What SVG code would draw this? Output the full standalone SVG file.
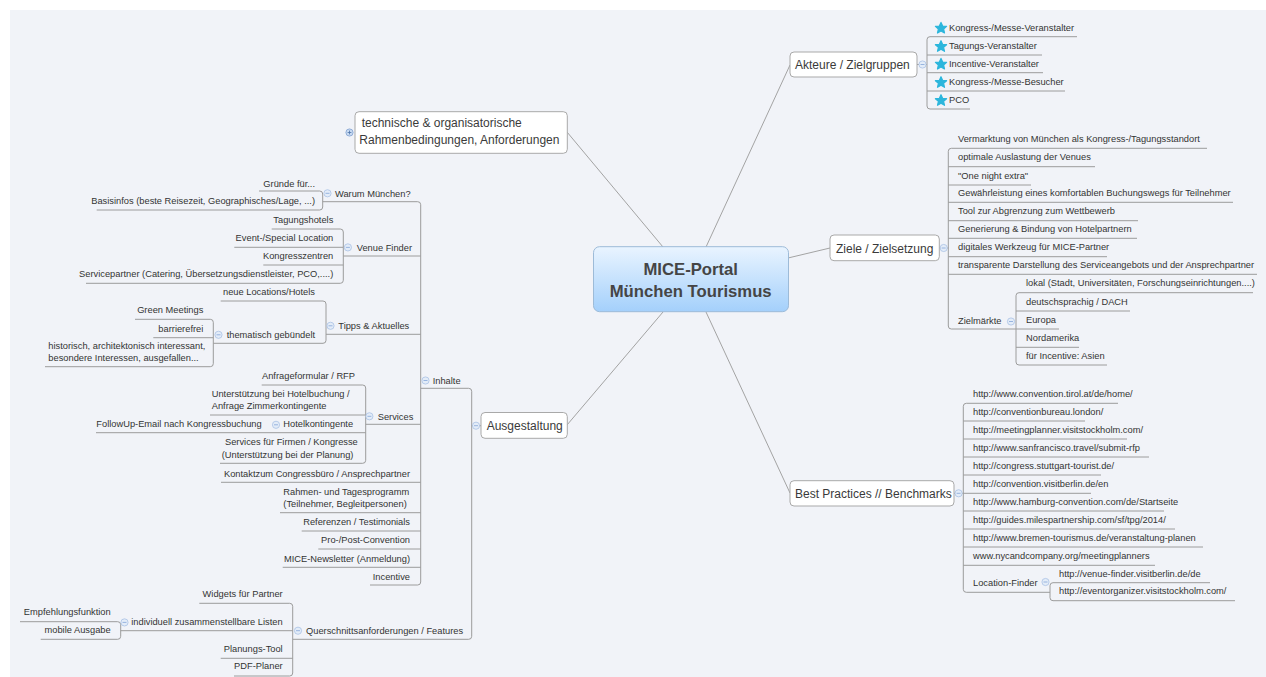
<svg xmlns="http://www.w3.org/2000/svg" width="1266" height="677" viewBox="0 0 1266 677">
  <style>
    .t { font-family: "Liberation Sans", Arial, sans-serif; font-size: 9.3px; fill: #333333; }
    .e { text-anchor: end; }
    .tb { font-family: "Liberation Sans", Arial, sans-serif; font-size: 12px; fill: #3a3a3a; }
    .tc { font-family: "Liberation Sans", Arial, sans-serif; font-size: 16.7px; font-weight: bold; fill: #454545; text-anchor: middle; }
    .ln { fill: none; stroke: #9c9c9c; stroke-width: 1; }
    .cn { fill: none; stroke: #a3a3a3; stroke-width: 1; }
    .box { fill: #ffffff; stroke: #a9a9a9; stroke-width: 1; }
    .ind { fill: #e3ecf8; stroke: #a9c2e4; stroke-width: 0.8; }
    .indm { stroke: #8eaedb; stroke-width: 0.9; }
  </style>
  <defs>
    <linearGradient id="centralFill" x1="0" y1="0" x2="0" y2="1">
      <stop offset="0" stop-color="#e9f4ff"/>
      <stop offset="1" stop-color="#a4d0fb"/>
    </linearGradient>
    <polygon id="star" points="0,-5.8 1.7,-2.1 5.6,-1.8 2.6,0.8 3.5,4.8 0,2.7 -3.5,4.8 -2.6,0.8 -5.6,-1.8 -1.7,-2.1" fill="#2cb6dc" stroke="#2cb6dc" stroke-width="1.2" stroke-linejoin="round"/>
    <g id="minus">
      <circle class="ind" r="3.6"/>
      <line class="indm" x1="-2" y1="0" x2="2" y2="0"/>
    </g>
  </defs>

  <!-- canvas -->
  <rect x="0" y="0" width="1266" height="677" fill="#ffffff"/>
  <rect x="10" y="10" width="1256" height="667" fill="#f1f3f8"/>

  <!-- connectors -->
  <g id="connectors">
    <!-- central topic to main branches -->
    <line class="cn" x1="663" y1="247" x2="567" y2="132"/>
    <line class="cn" x1="706" y1="247" x2="790" y2="65"/>
    <line class="cn" x1="788" y1="258" x2="830" y2="248"/>
    <line class="cn" x1="706" y1="312" x2="790" y2="493"/>
    <line class="cn" x1="663" y1="312" x2="567" y2="425"/>

    <!-- Akteure / Zielgruppen -->
    <path class="ln" d="M917,64.5 H927"/>
    <path class="ln" d="M1077,36.7 H930 Q927,36.7 927,39.7 V106 Q927,109 930,109 H970"/>
    <path class="ln" d="M927,55 H1042 M927,72.7 H1043 M927,91 H1065"/>

    <!-- Ziele / Zielsetzung -->
    <path class="ln" d="M939,248 H948.3"/>
    <path class="ln" d="M1207,148.3 H951.3 Q948.3,148.3 948.3,151.3 V326 Q948.3,329 951.3,329 H1059"/>
    <path class="ln" d="M948.3,166.7 H1095 M948.3,185 H1031 M948.3,202.3 H1233 M948.3,220.7 H1138 M948.3,238.3 H1137 M948.3,256.7 H1107 M948.3,274.3 H1257"/>
    <path class="ln" d="M1253,292.7 H1019 Q1016,292.7 1016,295.7 V362 Q1016,365 1019,365 H1107"/>
    <path class="ln" d="M1016,311 H1130 M1016,347.3 H1079"/>

    <!-- Best Practices // Benchmarks -->
    <path class="ln" d="M954,493.3 H963.3"/>
    <path class="ln" d="M1118,403.3 H966.3 Q963.3,403.3 963.3,406.3 V589.3 Q963.3,592.3 966.3,592.3 H1050"/>
    <path class="ln" d="M963.3,421 H1085 M963.3,439 H1127 M963.3,457 H1149 M963.3,475 H1101 M963.3,493.3 H1091 M963.3,511 H1164 M963.3,529 H1175 M963.3,547 H1203 M963.3,565.3 H1155"/>
    <path class="ln" d="M1210,582.7 H1053 Q1050,582.7 1050,585.7 V597.7 Q1050,600.7 1053,600.7 H1235"/>

    <!-- Ausgestaltung -->
    <path class="ln" d="M471.7,425.7 H481"/>
    <path class="ln" d="M420.7,388.3 H468.7 Q471.7,388.3 471.7,391.3 V636.3 Q471.7,639.3 468.7,639.3 H292.7"/>

    <!-- Inhalte -->
    <path class="ln" d="M322.7,201.7 H417.7 Q420.7,201.7 420.7,204.7 V582 Q420.7,585 417.7,585 H370"/>
    <path class="ln" d="M343.3,256 H420.7 M326,334.3 H420.7 M365.7,424.3 H420.7"/>
    <path class="ln" d="M221,482.3 H420.7 M280,512.7 H420.7 M301.7,531 H420.7 M318.3,549 H420.7 M282.7,567.3 H420.7"/>

    <!-- Warum München? -->
    <path class="ln" d="M259,191 H319.7 Q322.7,191 322.7,194 V207 Q322.7,210 319.7,210 H96.7"/>

    <!-- Venue Finder -->
    <path class="ln" d="M271.7,229 H340.3 Q343.3,229 343.3,232 V280.3 Q343.3,283.3 340.3,283.3 H86"/>
    <path class="ln" d="M234.3,247.3 H343.3 M263.3,265 H343.3"/>

    <!-- Tipps & Aktuelles -->
    <path class="ln" d="M220.7,301 H323 Q326,301 326,304 V340.3 Q326,343.3 323,343.3 H213.3"/>
    <path class="ln" d="M135,319.3 H210.3 Q213.3,319.3 213.3,322.3 V363.7 Q213.3,366.7 210.3,366.7 H45"/>
    <path class="ln" d="M153.3,337.7 H213.3"/>

    <!-- Services -->
    <path class="ln" d="M261.7,385 H362.7 Q365.7,385 365.7,388 V460.3 Q365.7,463.3 362.7,463.3 H220"/>
    <path class="ln" d="M210,415 H365.7 M96,432.7 H365.7"/>

    <!-- Querschnittsanforderungen / Features -->
    <path class="ln" d="M199.3,603.3 H289.7 Q292.7,603.3 292.7,606.3 V673 Q292.7,676 289.7,676 H234"/>
    <path class="ln" d="M120.7,630.7 H292.7 M220.7,658.3 H292.7"/>
    <path class="ln" d="M20,621.7 H117.7 Q120.7,621.7 120.7,624.7 V636.3 Q120.7,639.3 117.7,639.3 H40.7"/>
  </g>

  <!-- central topic -->
  <g id="central">
    <rect x="593.5" y="246.7" width="195" height="65" rx="6" fill="url(#centralFill)" stroke="#9dbbd8" stroke-width="1"/>
    <text class="tc" x="690.7" y="275">MICE-Portal</text>
    <text class="tc" x="690.7" y="296.7">München Tourismus</text>
  </g>

  <!-- technische & organisatorische Rahmenbedingungen -->
  <g id="rahmen">
    <rect class="box" x="355" y="111.7" width="212.3" height="41.6" rx="4"/>
    <text class="tb" x="361.7" y="127.3">technische &amp; organisatorische</text>
    <text class="tb" x="359.3" y="144.3">Rahmenbedingungen, Anforderungen</text>
    <circle cx="349.5" cy="132.5" r="3.6" fill="#c9dbf2" stroke="#7f9fcf" stroke-width="0.8"/>
    <path d="M347.6,132.5 H351.4 M349.5,130.6 V134.4" stroke="#4d72a8" stroke-width="0.8"/>
  </g>

  <!-- Akteure / Zielgruppen -->
  <g id="akteure">
    <rect class="box" x="790" y="52" width="127" height="25" rx="4"/>
    <text class="tb" x="795" y="68.5">Akteure / Zielgruppen</text>
    <use href="#minus" x="922.5" y="64.5"/>
    <use href="#star" x="941" y="28.2"/>
    <text class="t" x="949" y="30.8">Kongress-/Messe-Veranstalter</text>
    <use href="#star" x="941" y="46.5"/>
    <text class="t" x="949" y="49.1">Tagungs-Veranstalter</text>
    <use href="#star" x="941" y="64.2"/>
    <text class="t" x="949" y="66.8">Incentive-Veranstalter</text>
    <use href="#star" x="941" y="82.5"/>
    <text class="t" x="949" y="85.1">Kongress-/Messe-Besucher</text>
    <use href="#star" x="941" y="100.5"/>
    <text class="t" x="949" y="103.1">PCO</text>
  </g>

  <!-- Ziele / Zielsetzung -->
  <g id="ziele">
    <rect class="box" x="830" y="235" width="109.3" height="25.7" rx="4"/>
    <text class="tb" x="836" y="252.5">Ziele / Zielsetzung</text>
    <use href="#minus" x="943.7" y="248"/>
    <text class="t" x="958" y="142">Vermarktung von München als Kongress-/Tagungsstandort</text>
    <text class="t" x="958" y="160.3">optimale Auslastung der Venues</text>
    <text class="t" x="958" y="178.6">"One night extra"</text>
    <text class="t" x="958" y="195.9">Gewährleistung eines komfortablen Buchungswegs für Teilnehmer</text>
    <text class="t" x="958" y="214.3">Tool zur Abgrenzung zum Wettbewerb</text>
    <text class="t" x="958" y="231.9">Generierung &amp; Bindung von Hotelpartnern</text>
    <text class="t" x="958" y="250.3">digitales Werkzeug für MICE-Partner</text>
    <text class="t" x="958" y="267.9">transparente Darstellung des Serviceangebots und der Ansprechpartner</text>
    <text class="t" x="958" y="324.3">Zielmärkte</text>
    <use href="#minus" x="1011" y="321.5"/>
    <text class="t" x="1026" y="286.2">lokal (Stadt, Universitäten, Forschungseinrichtungen....)</text>
    <text class="t" x="1026" y="304.6">deutschsprachig / DACH</text>
    <text class="t" x="1026" y="322.6">Europa</text>
    <text class="t" x="1026" y="340.9">Nordamerika</text>
    <text class="t" x="1026" y="358.6">für Incentive: Asien</text>
  </g>

  <!-- Best Practices // Benchmarks -->
  <g id="benchmarks">
    <rect class="box" x="790" y="480.7" width="164" height="25.3" rx="4"/>
    <text class="tb" x="795" y="497.5">Best Practices // Benchmarks</text>
    <use href="#minus" x="958.6" y="493.3"/>
    <text class="t" x="973" y="396.9">http://www.convention.tirol.at/de/home/</text>
    <text class="t" x="973" y="414.6">http://conventionbureau.london/</text>
    <text class="t" x="973" y="432.6">http://meetingplanner.visitstockholm.com/</text>
    <text class="t" x="973" y="450.6">http://www.sanfrancisco.travel/submit-rfp</text>
    <text class="t" x="973" y="468.6">http://congress.stuttgart-tourist.de/</text>
    <text class="t" x="973" y="486.9">http://convention.visitberlin.de/en</text>
    <text class="t" x="973" y="504.6">http://www.hamburg-convention.com/de/Startseite</text>
    <text class="t" x="973" y="522.6">http://guides.milespartnership.com/sf/tpg/2014/</text>
    <text class="t" x="973" y="540.6">http://www.bremen-tourismus.de/veranstaltung-planen</text>
    <text class="t" x="973" y="558.9">www.nycandcompany.org/meetingplanners</text>
    <text class="t" x="973" y="586.3">Location-Finder</text>
    <use href="#minus" x="1045.5" y="582"/>
    <text class="t" x="1059" y="576.5">http://venue-finder.visitberlin.de/de</text>
    <text class="t" x="1059" y="594.4">http://eventorganizer.visitstockholm.com/</text>
  </g>

  <!-- Ausgestaltung -->
  <g id="ausgestaltung">
    <rect class="box" x="481" y="412.5" width="86.3" height="25.8" rx="4"/>
    <text class="tb" x="486.7" y="429.5">Ausgestaltung</text>
    <use href="#minus" x="476" y="425.7"/>
  </g>

  <!-- Inhalte -->
  <g id="inhalte">
    <text class="t" x="432.7" y="383.5">Inhalte</text>
    <use href="#minus" x="425.5" y="380.5"/>
    <text class="t e" x="410" y="476.5">Kontaktzum Congressbüro / Ansprechpartner</text>
    <text class="t" x="283.3" y="495">Rahmen- und Tagesprogramm</text>
    <text class="t" x="283.3" y="506.8">(Teilnehmer, Begleitpersonen)</text>
    <text class="t e" x="410" y="525">Referenzen / Testimonials</text>
    <text class="t e" x="410" y="543.2">Pro-/Post-Convention</text>
    <text class="t e" x="410" y="561.5">MICE-Newsletter (Anmeldung)</text>
    <text class="t e" x="410" y="579.6">Incentive</text>
  </g>

  <!-- Warum München? -->
  <g id="warum">
    <text class="t" x="335" y="196.5">Warum München?</text>
    <use href="#minus" x="327.5" y="193.3"/>
    <text class="t e" x="315" y="187">Gründe für...</text>
    <text class="t e" x="315" y="204.2">Basisinfos (beste Reisezeit, Geographisches/Lage, ...)</text>
  </g>

  <!-- Venue Finder -->
  <g id="venue">
    <text class="t" x="356.7" y="250.8">Venue Finder</text>
    <use href="#minus" x="347.9" y="247.4"/>
    <text class="t e" x="333.3" y="222.8">Tagungshotels</text>
    <text class="t e" x="333.3" y="241">Event-/Special Location</text>
    <text class="t e" x="333.3" y="258.8">Kongresszentren</text>
    <text class="t e" x="333.3" y="277.2">Servicepartner (Catering, Übersetzungsdienstleister, PCO,....)</text>
  </g>

  <!-- Tipps & Aktuelles -->
  <g id="tipps">
    <text class="t" x="338.3" y="329">Tipps &amp; Aktuelles</text>
    <use href="#minus" x="330.5" y="325.8"/>
    <text class="t e" x="315" y="295">neue Locations/Hotels</text>
    <text class="t" x="226.7" y="337.6">thematisch gebündelt</text>
    <use href="#minus" x="218.5" y="334.8"/>
    <text class="t e" x="203.3" y="313">Green Meetings</text>
    <text class="t e" x="203.3" y="331.5">barrierefrei</text>
    <text class="t" x="48.3" y="348.5">historisch, architektonisch interessant,</text>
    <text class="t" x="48.3" y="360.6">besondere Interessen, ausgefallen...</text>
  </g>

  <!-- Services -->
  <g id="services">
    <text class="t" x="377.7" y="419.6">Services</text>
    <use href="#minus" x="369.4" y="416.3"/>
    <text class="t e" x="355" y="379">Anfrageformular / RFP</text>
    <text class="t" x="211.7" y="396.8">Unterstützung bei Hotelbuchung  /</text>
    <text class="t" x="211.7" y="409">Anfrage Zimmerkontingente</text>
    <text class="t" x="283.3" y="426.8">Hotelkontingente</text>
    <use href="#minus" x="276" y="424.8"/>
    <text class="t e" x="261.7" y="426.8">FollowUp-Email nach Kongressbuchung</text>
    <text class="t" x="225" y="445">Services für Firmen / Kongresse</text>
    <text class="t" x="221.7" y="457.6">(Unterstützung bei der Planung)</text>
  </g>

  <!-- Querschnittsanforderungen / Features -->
  <g id="querschnitt">
    <text class="t" x="306" y="633.5">Querschnittsanforderungen / Features</text>
    <use href="#minus" x="298" y="630.7"/>
    <text class="t e" x="282.7" y="597.3">Widgets für Partner</text>
    <text class="t e" x="282.7" y="625">individuell zusammenstellbare Listen</text>
    <use href="#minus" x="124.5" y="622.4"/>
    <text class="t e" x="110.7" y="615">Empfehlungsfunktion</text>
    <text class="t e" x="110.7" y="632.8">mobile Ausgabe</text>
    <text class="t e" x="282.7" y="651.7">Planungs-Tool</text>
    <text class="t e" x="282.7" y="669.3">PDF-Planer</text>
  </g>
</svg>
